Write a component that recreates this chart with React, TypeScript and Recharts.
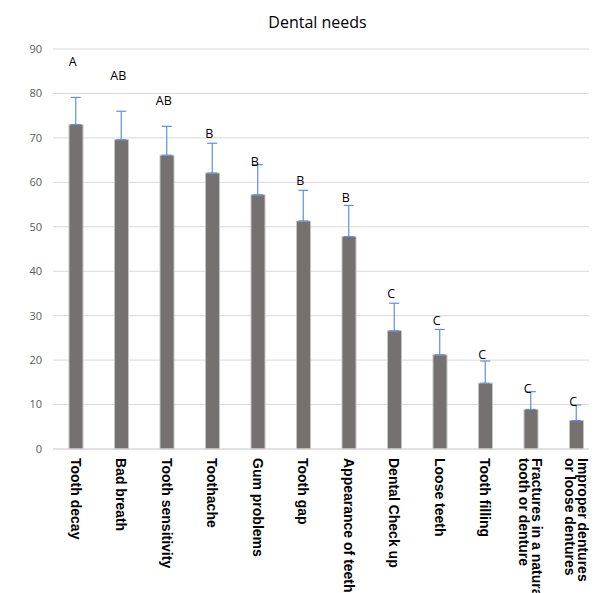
import { Bar, CartesianGrid, ComposedChart, ErrorBar, LabelList, Line, XAxis, YAxis } from "recharts";

const categories = [
  "Tooth decay",
  "Bad breath",
  "Tooth sensitivity",
  "Toothache",
  "Gum problems",
  "Tooth gap",
  "Appearance of teeth",
  "Dental Check up",
  "Loose teeth",
  "Tooth filling",
  "Fractures in a natural\ntooth or denture",
  "Improper dentures\nor loose dentures",
];
const means = [73, 69.6, 66.1, 62.1, 57.2, 51.3, 47.8, 26.6, 21.2, 14.8, 8.9, 6.4];
const errors = [6.1, 6.4, 6.5, 6.7, 6.8, 6.9, 7.0, 6.2, 5.7, 5.0, 4.0, 3.5];
const letters = ["A", "AB", "AB", "B", "B", "B", "B", "C", "C", "C", "C", "C"];
const letterAt = [86.2, 83.0, 77.3, 69.9, 63.7, 59.5, 55.5, 34.0, 27.8, 20.2, 12.5, 9.6];
const yTicks = [0, 10, 20, 30, 40, 50, 60, 70, 80, 90];

const rows = categories.map((name, i) => ({
  name,
  value: means[i],
  err: [0, errors[i]],
  letter: letters[i],
  letterAt: letterAt[i],
}));

function RotatedTick(props: any) {
  const { x, y, payload } = props;
  const lines = String(payload.value).split("\n");
  const lh = 13;
  return (
    <g transform={`translate(${x},${y + 1})`}>
      <text
        transform="rotate(90)"
        textAnchor="start"
        fontFamily="'Liberation Sans', Arial, sans-serif"
        fontWeight="bold"
        fontSize={14}
        fill="#000"
      >
        {lines.map((ln, i) => (
          <tspan key={i} x={0} y={(i - (lines.length - 1) / 2) * lh} dy="0.35em">
            {ln}
          </tspan>
        ))}
      </text>
    </g>
  );
}

function LetterLabel(props: any) {
  const { x, y, value } = props;
  return (
    <text x={x - 3} y={y} textAnchor="middle" fontFamily="'Open Sans', sans-serif" fontSize={12.5} fill="#000">
      {value}
    </text>
  );
}

export default function App() {
  return (
    <div style={{ position: "relative", width: 589, height: 585, overflow: "hidden" }}>
      <div
        style={{
          position: "absolute",
          left: 0,
          top: 6,
          width: 619,
          textAlign: "center",
          fontFamily: "'Open Sans', sans-serif",
          fontSize: 16,
          lineHeight: "16px",
          color: "#000",
        }}
      >
        Dental needs
      </div>
      <ComposedChart width={595} height={585} data={rows} margin={{ top: 41, right: 4, left: 0, bottom: 0 }}>
        <CartesianGrid vertical={false} stroke="#d9d9d9" />
        <XAxis
          dataKey="name"
          interval={0}
          height={144}
          tickLine={false}
          axisLine={{ stroke: "#d9d9d9" }}
          tick={<RotatedTick />}
        />
        <YAxis
          domain={[0, 90]}
          ticks={yTicks}
          width={45}
          axisLine={false}
          tickLine={false}
          tickSize={0}
          tickMargin={11}
          tick={{ fontFamily: "'Open Sans', sans-serif", fontSize: 11, fill: "#595959" }}
        />
        <Line dataKey="value" stroke="none" dot={false} activeDot={false} isAnimationActive={false}>
          <ErrorBar dataKey="err" width={5} stroke="#5f8fdc" strokeWidth={1.2} direction="y" />
        </Line>
        <Bar dataKey="value" barSize={14} fill="#767171" stroke="#c4c4c4" strokeWidth={1} isAnimationActive={false} />
        <Line dataKey="letterAt" stroke="none" dot={false} activeDot={false} isAnimationActive={false}>
          <LabelList dataKey="letter" content={<LetterLabel />} />
        </Line>
      </ComposedChart>
    </div>
  );
}
